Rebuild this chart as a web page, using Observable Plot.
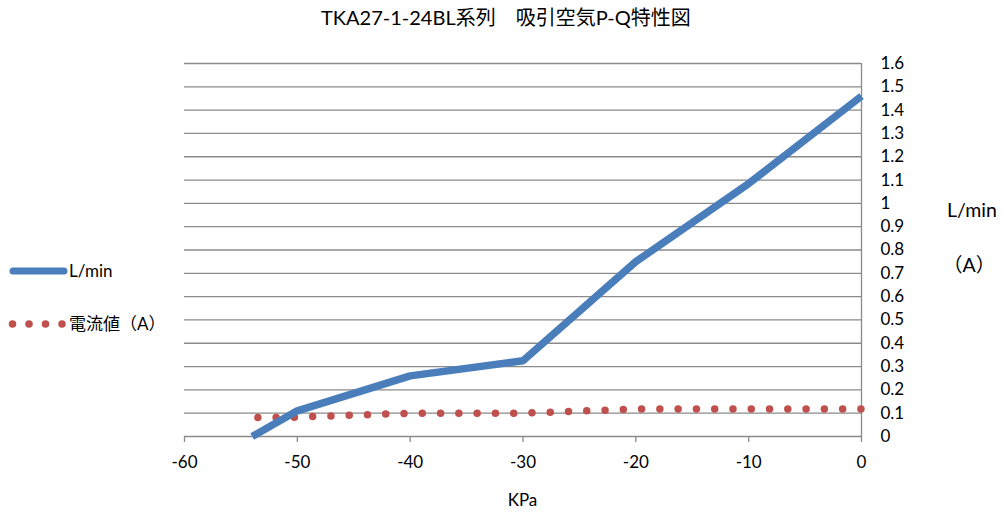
<!DOCTYPE html>
<html>
<head>
<meta charset="utf-8">
<script src="https://cdn.jsdelivr.net/npm/d3@7"></script>
<script src="https://cdn.jsdelivr.net/npm/@observablehq/plot@0.6"></script>
<style>
  html, body { margin: 0; padding: 0; background: #fff; }
  #wrap { position: relative; width: 1003px; height: 516px; font-family: Lato, "Noto Sans CJK JP", sans-serif; color: #000; }
  #wrap svg { position: absolute; left: 0; top: 0; }
  .lbl { position: absolute; white-space: nowrap; font-size: 17px; line-height: 1; }
</style>
</head>
<body>
<div id="wrap">
  <div class="lbl" id="title" style="left:321px; top:7px; font-size:20px;">TKA27-1-24BL系列　吸引空気P-Q特性図</div>
  <div class="lbl" style="left:947px; top:200px; font-size:19.5px;">L/min</div>
  <div class="lbl" style="left:943px; top:255px; font-size:19.5px;">（A）</div>
  <div class="lbl" style="left:0; width:1045px; text-align:center; top:491px;">KPa</div>
  <svg width="180" height="350" style="position:absolute;left:0;top:0;overflow:visible">
    <line x1="13" y1="271" x2="64" y2="271" stroke="#4a7ebb" stroke-width="7" stroke-linecap="round"/>
    <line x1="12.5" y1="324" x2="62.5" y2="324" stroke="#c0504d" stroke-width="7.5" stroke-linecap="round" stroke-dasharray="0 16.5"/>
  </svg>
  <div class="lbl" style="left:69px; top:262px;">L/min</div>
  <div class="lbl" style="left:69px; top:315px;">電流値（A）</div>
</div>
<script>
// Data
const pressure = [-54, -50, -40, -30, -20, -10, 0];           // KPa
const flow = [0, 0.11, 0.26, 0.325, 0.75, 1.085, 1.46];        // L/min
const currentPressure = [-53.5, -50, -40, -30, -20, -10, 0];   // KPa
const current = [0.081, 0.083, 0.1, 0.1, 0.118, 0.118, 0.118]; // A
const xTicks = [-60, -50, -40, -30, -20, -10, 0];
const yTicks = [0, 0.1, 0.2, 0.3, 0.4, 0.5, 0.6, 0.7, 0.8, 0.9, 1, 1.1, 1.2, 1.3, 1.4, 1.5, 1.6];
const yTickLabels = ["0","0.1","0.2","0.3","0.4","0.5","0.6","0.7","0.8","0.9","1","1.1","1.2","1.3","1.4","1.5","1.6"];

const flowData = pressure.map((p, i) => ({p, v: flow[i]}));
const curData = currentPressure.map((p, i) => ({p, v: current[i]}));

const chart = Plot.plot({
  width: 1003,
  height: 516,
  marginLeft: 184,
  marginRight: 142,
  marginTop: 63,
  marginBottom: 80,
  style: { fontFamily: 'Lato, "Noto Sans CJK JP", sans-serif', fontSize: "17px", background: "transparent", overflow: "visible" },
  x: { domain: [-60, 0] },
  y: { domain: [0, 1.6] },
  marks: [
    Plot.ruleY(yTicks, { stroke: "#8a8a8a", strokeWidth: 1.3 }),
    Plot.ruleX([0], { y1: 0, y2: 1.6, stroke: "#8a8a8a", strokeWidth: 1.3 }),
    Plot.axisX(xTicks, { tickSize: 6, tickPadding: 13, stroke: "#8a8a8a", strokeWidth: 1.3, fill: "#000", tickFormat: d => String(d), label: null }),
    Plot.axisY(yTicks, { anchor: "right", tickSize: 0, tickPadding: 19, textAnchor: "start", fill: "#000", tickFormat: (d, i) => yTickLabels[i], label: null }),
    Plot.line(curData, { x: "p", y: "v", stroke: "#c0504d", strokeWidth: 7.5, strokeLinecap: "round", strokeDasharray: "0 18.28" }),
    Plot.line(flowData, { x: "p", y: "v", stroke: "#4a7ebb", strokeWidth: 7.5, strokeLinejoin: "round", strokeLinecap: "butt" })
  ]
});
document.getElementById("wrap").insertBefore(chart, document.getElementById("wrap").firstChild);
</script>
</body>
</html>
